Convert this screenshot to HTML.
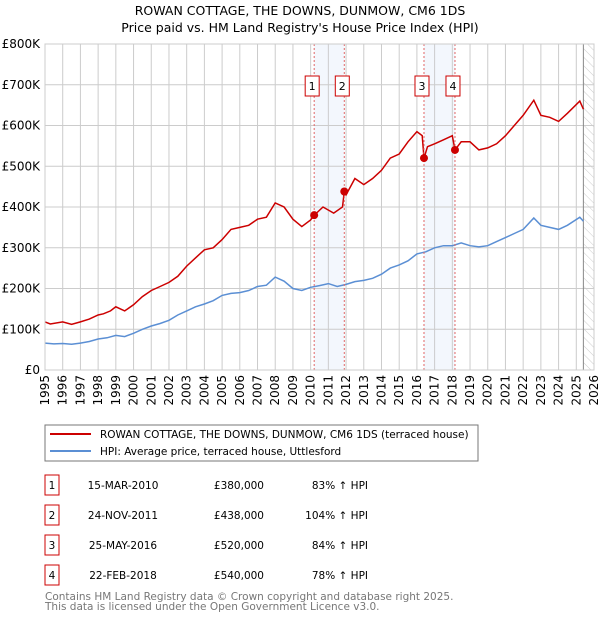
<!DOCTYPE html>
<html><head><meta charset="utf-8"><style>
body{margin:0;background:#fff}
svg text{font-family:"DejaVu Sans","Liberation Sans",sans-serif}
</style></head><body>
<svg id="c" width="600" height="620" xmlns="http://www.w3.org/2000/svg">
<defs><pattern id="hatch" width="6" height="6" patternUnits="userSpaceOnUse" patternTransform="rotate(-45)"><line x1="0" y1="0" x2="0" y2="6" stroke="#ccc" stroke-width="1"/></pattern></defs>
<text x="300" y="15" text-anchor="middle" font-size="12.5" fill="#000">ROWAN COTTAGE, THE DOWNS, DUNMOW, CM6 1DS</text>
<text x="300" y="32" text-anchor="middle" font-size="12.5" fill="#000">Price paid vs. HM Land Registry's House Price Index (HPI)</text>
<g id="bands"></g><g id="grid"></g><g id="series"></g><g id="marks"></g>
<rect x="45" y="44" width="549" height="326" fill="none" stroke="#ccc"/>
<rect x="45" y="425" width="433" height="36" fill="#fff" stroke="#777"/>
<line x1="50" y1="434" x2="91" y2="434" stroke="#cc0000" stroke-width="2"/>
<text x="100" y="438" font-size="10.5">ROWAN COTTAGE, THE DOWNS, DUNMOW, CM6 1DS (terraced house)</text>
<line x1="50" y1="451" x2="91" y2="451" stroke="#5b8fd4" stroke-width="2"/>
<text x="100" y="455" font-size="10.5">HPI: Average price, terraced house, Uttlesford</text>
<g id="table"></g>
<text x="45" y="600" font-size="10.5" fill="#777">Contains HM Land Registry data © Crown copyright and database right 2025.</text>
<text x="45" y="610" font-size="10.5" fill="#777">This data is licensed under the Open Government Licence v3.0.</text>
</svg>
<script>
const yTicks=[0,100,200,300,400,500,600,700,800];
const yTickLabels=["£0","£100K","£200K","£300K","£400K","£500K","£600K","£700K","£800K"];
const years=[1995,1996,1997,1998,1999,2000,2001,2002,2003,2004,2005,2006,2007,2008,2009,2010,2011,2012,2013,2014,2015,2016,2017,2018,2019,2020,2021,2022,2023,2024,2025,2026];
const hpiT=[1995,1995.5,1996,1996.5,1997,1997.5,1998,1998.5,1999,1999.5,2000,2000.5,2001,2001.5,2002,2002.5,2003,2003.5,2004,2004.5,2005,2005.5,2006,2006.5,2007,2007.5,2008,2008.5,2009,2009.5,2010,2010.5,2011,2011.5,2012,2012.5,2013,2013.5,2014,2014.5,2015,2015.5,2016,2016.5,2017,2017.5,2018,2018.5,2019,2019.5,2020,2020.5,2021,2021.5,2022,2022.6,2023,2023.5,2024,2024.5,2025.2,2025.4];
const hpiV=[66,64,65,63,66,70,76,79,85,82,90,100,108,114,122,135,145,155,162,170,183,188,190,195,205,208,228,218,200,195,203,207,212,205,210,217,220,225,235,250,258,268,285,290,300,305,305,312,305,302,305,315,325,335,345,373,355,350,345,355,375,365];
const ppT=[1995,1995.3,1996,1996.5,1997,1997.5,1998,1998.3,1998.7,1999,1999.5,2000,2000.5,2001,2001.5,2002,2002.5,2003,2003.5,2004,2004.5,2005,2005.5,2006,2006.5,2007,2007.5,2008,2008.5,2009,2009.5,2010,2010.2,2010.7,2011.3,2011.8,2011.9,2012,2012.5,2013,2013.5,2014,2014.5,2015,2015.5,2016,2016.3,2016.4,2016.6,2017,2017.5,2018,2018.15,2018.5,2019,2019.5,2020,2020.5,2021,2021.5,2022,2022.6,2023,2023.5,2024,2024.5,2025.2,2025.4];
const ppV=[118,113,118,112,118,125,135,138,145,155,145,160,180,195,205,215,230,255,275,295,300,320,345,350,355,370,375,410,400,370,352,368,380,400,385,400,438,430,470,455,470,490,520,530,560,585,575,520,548,555,565,575,540,560,560,540,545,555,575,600,625,662,625,620,610,630,660,640];
const saleT=[2010.2,2011.9,2016.4,2018.15];
const saleV=[380,438,520,540];
const saleLabels=["1","2","3","4"];
const saleDates=["15-MAR-2010","24-NOV-2011","25-MAY-2016","22-FEB-2018"];
const salePrices=["£380,000","£438,000","£520,000","£540,000"];
const saleHpi=["83% ↑ HPI","104% ↑ HPI","84% ↑ HPI","78% ↑ HPI"];
const NS="http://www.w3.org/2000/svg";
const X0=45,X1=594,Y0=370,Y1=44;
const x=t=>X0+(t-1995)/(2026-1995)*(X1-X0);
const y=v=>Y0-v/800*(Y0-Y1);
function mk(tag,at,parent){const e=document.createElementNS(NS,tag);for(const k in at)e.setAttribute(k,at[k]);document.getElementById(parent).appendChild(e);return e;}
for(let i=0;i<saleT.length;i+=2){const r=mk('rect',{x:x(saleT[i]),y:Y1,width:x(saleT[i+1])-x(saleT[i]),height:Y0-Y1,fill:'#eef3fc',opacity:0.7},'bands');

}
const h=mk('rect',{x:x(2025.4),y:Y1,width:X1-x(2025.4),height:Y0-Y1,fill:'url(#hatch)'},'bands');


yTicks.forEach((v,i)=>{const l=mk('line',{x1:X0,x2:X1,y1:y(v),y2:y(v),stroke:'#ccc'},'grid');


const t=mk('text',{x:40,y:y(v)+4,'text-anchor':'end','font-size':12},'grid');t.textContent=yTickLabels[i];

});
years.forEach(yr=>{const l=mk('line',{x1:x(yr),x2:x(yr),y1:Y1,y2:Y0,stroke:'#ccc'},'grid');


const t=mk('text',{transform:`translate(${x(yr)+4},${Y0+5}) rotate(-90)`,'text-anchor':'end','font-size':12},'grid');t.textContent=yr;

});
const vl=mk('line',{x1:x(2025.4),x2:x(2025.4),y1:Y1,y2:Y0,stroke:'#888'},'grid');


const path=(T,V)=>T.map((t,i)=>(i?'L':'M')+x(t).toFixed(1)+','+y(V[i]).toFixed(1)).join('');
const hp=mk('path',{d:path(hpiT,hpiV),fill:'none',stroke:'#5b8fd4','stroke-width':1.5},'series');


const pp=mk('path',{d:path(ppT,ppV),fill:'none',stroke:'#cc0000','stroke-width':1.5},'series');


saleT.forEach((t,i)=>{const l=mk('line',{x1:x(t),x2:x(t),y1:Y1,y2:Y0,stroke:'#e06666','stroke-dasharray':'2,2'},'marks');


const c=mk('circle',{cx:x(t),cy:y(saleV[i]),r:4,fill:'#cc0000'},'marks');


const b=mk('rect',{x:x(t)-9,y:76,width:14,height:20,fill:'#fff',stroke:'#cc0000'},'marks');


const tx=mk('text',{x:x(t)-2,y:90,'text-anchor':'middle','font-size':11},'marks');tx.textContent=saleLabels[i];


const ry=475+i*30;
const tb=mk('rect',{x:45,y:ry,width:14,height:20,fill:'#fff',stroke:'#cc0000'},'table');


const cells=[[52,saleLabels[i],'middle'],[123,saleDates[i],'middle'],[264,salePrices[i],'end'],[368,saleHpi[i],'end']];
cells.forEach(cl=>{const e=mk('text',{x:cl[0],y:ry+14,'text-anchor':cl[2],'font-size':10.5},'table');e.textContent=cl[1];

});});
</script>
</body></html>
